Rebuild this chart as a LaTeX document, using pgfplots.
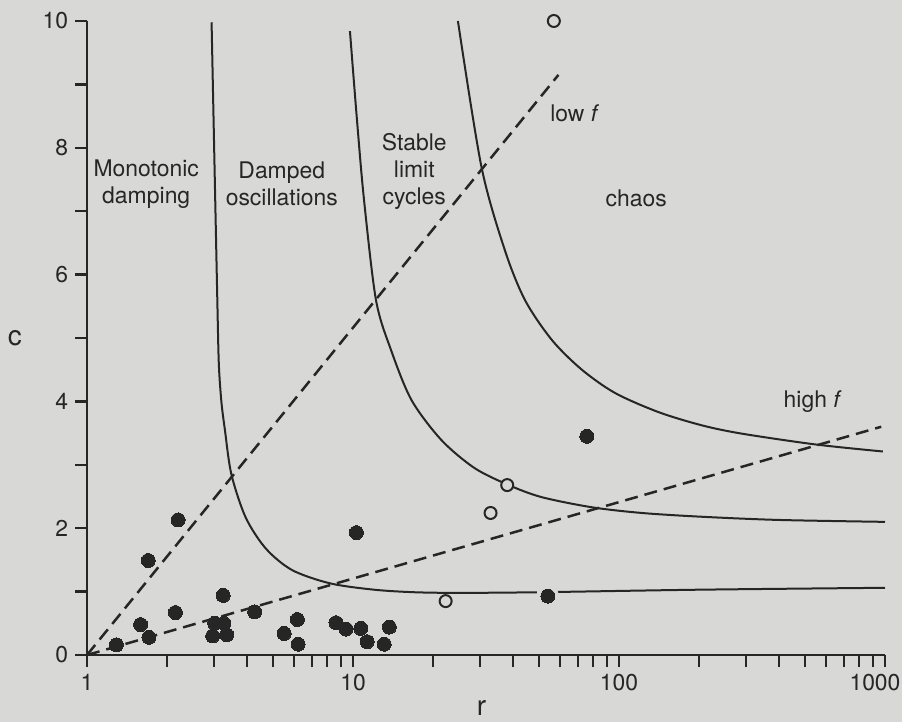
\documentclass[border=0pt]{standalone}
\usepackage{fontspec}
\setmainfont{TeX Gyre Heros}
\usepackage{pgfplots}
\pgfplotsset{compat=1.18}
\definecolor{bgcol}{RGB}{216,216,214}
\definecolor{ink}{RGB}{38,38,38}
\begin{document}
\begin{tikzpicture}[font=\fontsize{11.5}{13.5}\selectfont]
\useasboundingbox (-43.5bp,-33.5bp) rectangle (407.5bp,327.5bp);
\fill[bgcol] (-43.5bp,-33.5bp) rectangle (407.5bp,327.5bp);
\begin{axis}[
  scale only axis, width=399bp, height=317bp,
  at={(0,0)}, anchor=south west,
  xmode=log, xmin=1, xmax=1000, ymin=0, ymax=10,
  axis lines=left,
  axis line style={-, line width=1.3bp, draw=ink},
  tick align=outside, major tick length=6bp, minor tick length=6bp,
  tick style={draw=ink, line width=1.2bp},
  xtick={1,10,100,1000}, xticklabels={1,10,100,{\hspace*{-10bp}1000}},
  minor xtick={2,3,4,5,6,7,8,9,20,30,40,50,60,70,80,90,200,300,400,500,600,700,800,900},
  ytick={0,2,4,6,8,10}, minor ytick={1,3,5,7,9},
  /pgf/number format/assume math mode=true,
  tick label style={font=\fontsize{11.5}{13.5}\selectfont, text=ink},
  clip=false,
]
% boundary curves
\addplot[ink, line width=1bp, smooth, tension=0.5] coordinates {
 (2.94,9.98) (3.02,7.6) (3.09,5.6) (3.13,4.6) (3.2,4.0) (3.3,3.55) (3.49,2.85)
 (3.95,2.17) (4.7,1.68) (5.9,1.34) (8.2,1.13) (12,1.03) (17,0.99) (25,0.98)
 (50,0.99) (200,1.03) (1000,1.06)};
\addplot[ink, line width=1bp, smooth, tension=0.5] coordinates {
 (9.74,9.84) (10.35,8.44) (11.0,7.18) (12.2,5.60) (13.9,4.81) (16.6,4.02)
 (21.5,3.39) (28.6,2.95) (38.5,2.68) (51.2,2.49) (79.1,2.33) (122,2.24)
 (206,2.18) (400,2.13) (1000,2.10)};
\addplot[ink, line width=1bp, smooth, tension=0.5] coordinates {
 (24.8,10.0) (30.4,7.70) (37.2,6.39) (44.3,5.60) (55.9,4.97) (72.5,4.50)
 (96.9,4.13) (141,3.83) (206,3.62) (291,3.49) (550,3.32) (982,3.21)};
% dashed lines
\addplot[ink, line width=1.25bp, dash pattern=on 6.5bp off 3.5bp] coordinates {(1,0) (59.2,9.15)};
\addplot[ink, line width=1.25bp, dash pattern=on 6.5bp off 3.5bp] coordinates {(1,0) (968,3.60)};
% halo for point on curve
\addplot[only marks, color=bgcol, mark=*, mark size=5.5bp, mark options={fill=bgcol, draw=bgcol, line width=0pt}] coordinates {(54.0,0.93)};
% filled points
\addplot[only marks, color=ink, mark=*, mark size=3.5bp, mark options={fill=ink, draw=ink, line width=0pt}] coordinates {
 (1.29,0.16) (1.70,1.49) (1.59,0.48) (1.71,0.28) (2.15,0.67) (2.20,2.13)
 (3.02,0.50) (3.27,0.50) (2.97,0.30) (3.35,0.32) (3.25,0.94) (4.27,0.68)
 (5.51,0.34) (6.18,0.56) (6.22,0.17) (8.63,0.51) (9.41,0.41) (10.3,1.93)
 (10.7,0.42) (11.3,0.21) (13.1,0.17) (13.7,0.44) (54.0,0.93) (75.7,3.45)};
% open points
\addplot[only marks, color=ink, mark=*, mark size=3bp, mark options={fill=bgcol, draw=ink, line width=1bp}] coordinates {
 (22.3,0.85) (32.9,2.24) (38.0,2.68) (56.9,10.0)};
% region labels
\node[text=ink, align=center] at (axis cs:1.67,7.43) {Monotonic\\damping};
\node[text=ink, align=center] at (axis cs:5.40,7.43) {Damped\\oscillations};
\node[text=ink, align=center] at (axis cs:17.0,7.63) {Stable\\limit\\cycles};
\node[text=ink] at (axis cs:116,7.21) {chaos};
\node[text=ink] at (axis cs:68.2,8.55) {low \textit{f}};
\node[text=ink] at (axis cs:535,3.99) {high \textit{f}};
% axis labels
\node[text=ink, font=\fontsize{14}{16}\selectfont] at (axis cs:0.535,5.0) {c};
\node[text=ink, font=\fontsize{14}{16}\selectfont] at (axis cs:30.4,-0.84) {r};
\end{axis}
\end{tikzpicture}
\end{document}
